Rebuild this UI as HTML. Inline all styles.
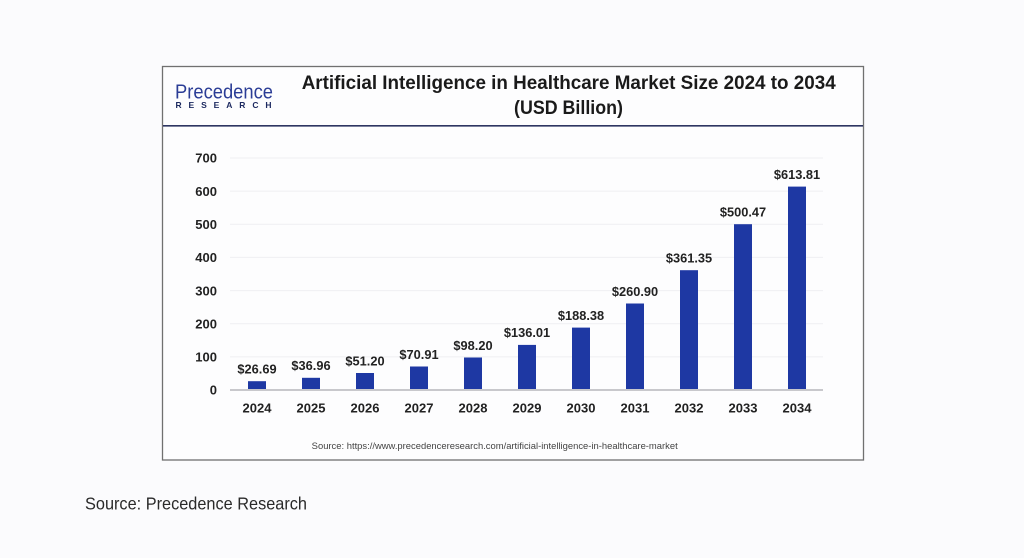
<!DOCTYPE html>
<html><head><meta charset="utf-8"><style>
html,body{margin:0;padding:0;background:#fbfbfd;}
svg{display:block;}
</style></head><body>
<svg width="1024" height="558" viewBox="0 0 1024 558" xmlns="http://www.w3.org/2000/svg" font-family="Liberation Sans, Arial, sans-serif">
<rect x="0" y="0" width="1024" height="558" fill="#fbfbfd"/>
<rect x="162.5" y="66.5" width="701" height="393.5" fill="#fdfdfe" stroke="#707070" stroke-width="1.3"/>
<line x1="163" y1="125.8" x2="863" y2="125.8" stroke="#2e3562" stroke-width="1.6"/>
<!-- logo -->
<text x="175" y="98.5" font-size="20" fill="#2b3d96" textLength="98" lengthAdjust="spacingAndGlyphs">Precedence</text>
<text x="175.5" y="108" font-size="8.5" font-weight="bold" fill="#1d2a60" textLength="96" lengthAdjust="spacing">RESEARCH</text>
<!-- title -->
<text x="301.7" y="89" font-size="19" font-weight="bold" fill="#1a1a1a" textLength="534" lengthAdjust="spacingAndGlyphs">Artificial Intelligence in Healthcare Market Size 2024 to 2034</text>
<text x="514" y="114" font-size="19" font-weight="bold" fill="#1a1a1a" textLength="109" lengthAdjust="spacingAndGlyphs">(USD Billion)</text>
<!-- gridlines -->
<g stroke="#efeff2" stroke-width="1">
<line x1="230" y1="158" x2="823" y2="158"/>
<line x1="230" y1="191.1" x2="823" y2="191.1"/>
<line x1="230" y1="224.3" x2="823" y2="224.3"/>
<line x1="230" y1="257.4" x2="823" y2="257.4"/>
<line x1="230" y1="290.6" x2="823" y2="290.6"/>
<line x1="230" y1="323.7" x2="823" y2="323.7"/>
<line x1="230" y1="356.9" x2="823" y2="356.9"/>
</g>
<!-- y labels -->
<g font-size="13" font-weight="bold" fill="#222" text-anchor="end">
<text x="217" y="162.7">700</text>
<text x="217" y="195.8">600</text>
<text x="217" y="229">500</text>
<text x="217" y="262.1">400</text>
<text x="217" y="295.3">300</text>
<text x="217" y="328.4">200</text>
<text x="217" y="361.6">100</text>
<text x="217" y="394.7">0</text>
</g>
<!-- bars -->
<g fill="#1e38a3">
<rect x="248" y="381.2" width="18" height="8.8"/>
<rect x="302" y="377.8" width="18" height="12.2"/>
<rect x="356" y="373.0" width="18" height="17.0"/>
<rect x="410" y="366.5" width="18" height="23.5"/>
<rect x="464" y="357.5" width="18" height="32.5"/>
<rect x="518" y="344.9" width="18" height="45.1"/>
<rect x="572" y="327.6" width="18" height="62.4"/>
<rect x="626" y="303.5" width="18" height="86.5"/>
<rect x="680" y="270.2" width="18" height="119.8"/>
<rect x="734" y="224.2" width="18" height="165.8"/>
<rect x="788" y="186.6" width="18" height="203.4"/>
</g>
<line x1="230" y1="390" x2="823" y2="390" stroke="#c8c8cc" stroke-width="2"/>
<!-- value labels -->
<g font-size="12.8" font-weight="bold" fill="#222" text-anchor="middle">
<text x="257" y="373.5">$26.69</text>
<text x="311" y="370.1">$36.96</text>
<text x="365" y="365.3">$51.20</text>
<text x="419" y="358.8">$70.91</text>
<text x="473" y="349.8">$98.20</text>
<text x="527" y="337.2">$136.01</text>
<text x="581" y="319.9">$188.38</text>
<text x="635" y="295.8">$260.90</text>
<text x="689" y="262.5">$361.35</text>
<text x="743" y="216.5">$500.47</text>
<text x="797" y="178.9">$613.81</text>
</g>
<!-- x labels -->
<g font-size="13" font-weight="bold" fill="#222" text-anchor="middle">
<text x="257" y="412.4">2024</text>
<text x="311" y="412.4">2025</text>
<text x="365" y="412.4">2026</text>
<text x="419" y="412.4">2027</text>
<text x="473" y="412.4">2028</text>
<text x="527" y="412.4">2029</text>
<text x="581" y="412.4">2030</text>
<text x="635" y="412.4">2031</text>
<text x="689" y="412.4">2032</text>
<text x="743" y="412.4">2033</text>
<text x="797" y="412.4">2034</text>
</g>
<text x="311.7" y="448.8" font-size="9" fill="#444" textLength="366" lengthAdjust="spacingAndGlyphs">Source: https://www.precedenceresearch.com/artificial-intelligence-in-healthcare-market</text>
<text x="85" y="509.3" font-size="17.5" fill="#2a2a2a" textLength="222" lengthAdjust="spacingAndGlyphs">Source: Precedence Research</text>
</svg>
</body></html>
